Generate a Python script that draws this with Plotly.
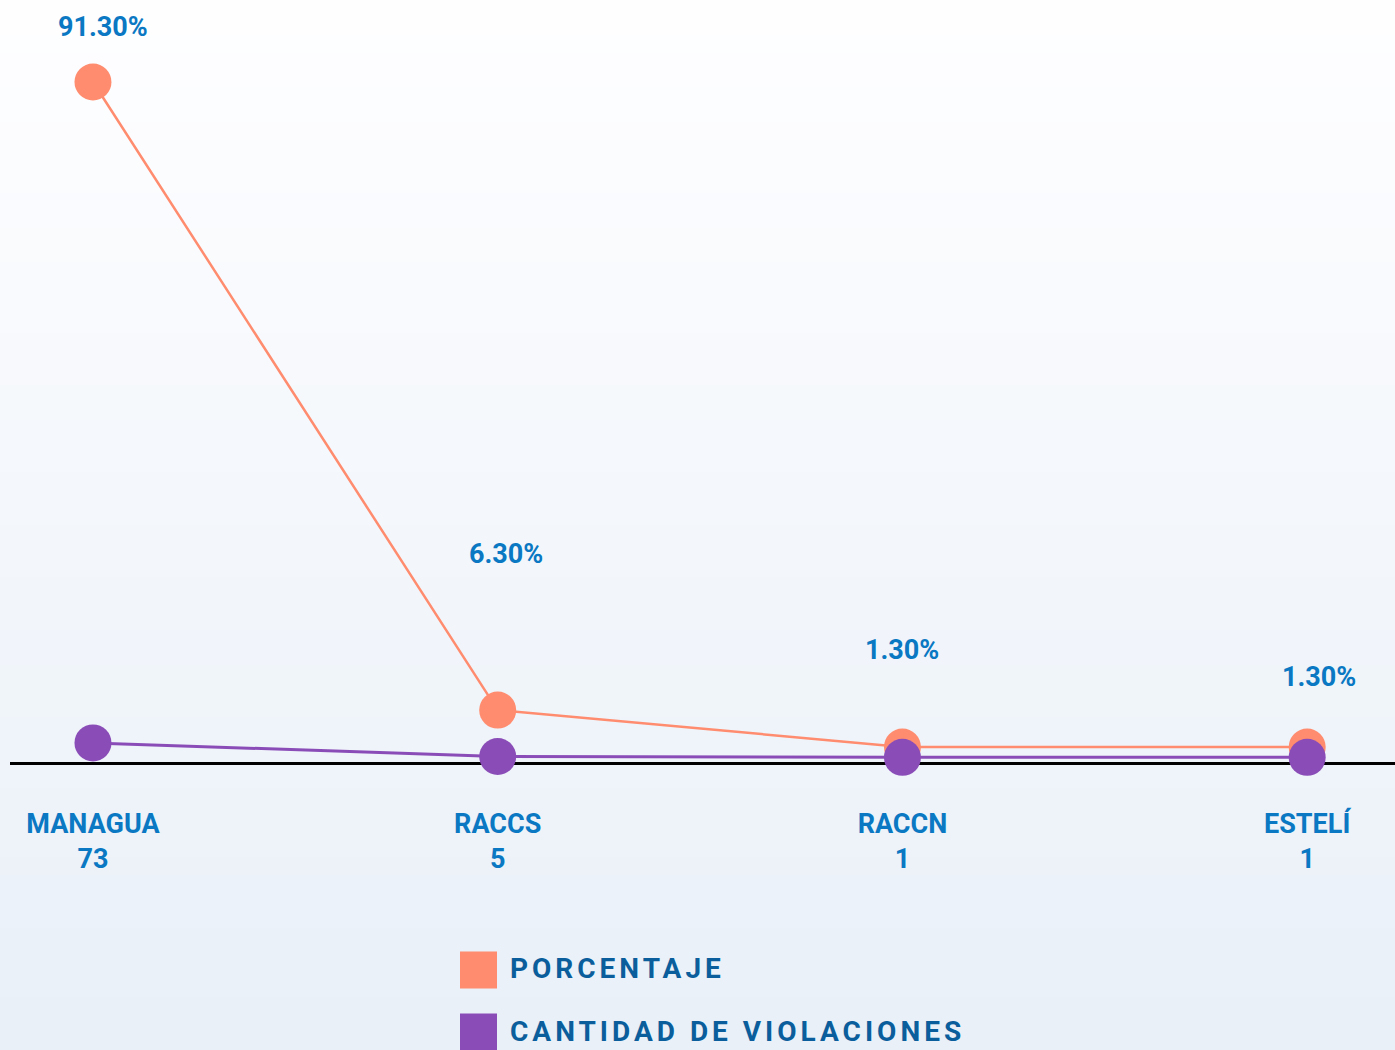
import plotly.graph_objects as go

# data
regiones = ["MANAGUA", "RACCS", "RACCN", "ESTELÍ"]
cantidad = [73, 5, 1, 1]
porcentaje = [91.3, 6.3, 1.3, 1.3]

# label offsets (pixels) for the percentage labels
label_dx = [10, 8, 0, 12]
label_dy = [55, 156, 97, 70]

ORANGE = "#ff8c6e"
PURPLE = "#8a4db8"
LABEL_BLUE = "#0a78c2"
LEGEND_BLUE = "#0b5e9c"

W, H = 1395, 1050
ML, MT, MB = 10, 0, 288
PLOT_W = W - ML
PLOT_H = H - MT - MB


def paper_x(px):
    return (px - ML) / PLOT_W


def paper_y(py):
    return 1 - (py - MT) / PLOT_H


ticktext = [f"<b>{r}</b><br><b>{c}</b>" for r, c in zip(regiones, cantidad)]

fig = go.Figure()

fig.add_trace(go.Scatter(
    x=regiones, y=porcentaje, name="PORCENTAJE",
    mode="lines+markers", cliponaxis=False,
    line=dict(color=ORANGE, width=2.5),
    marker=dict(color=ORANGE, size=37),
    hovertemplate="%{y:.2f}%<extra></extra>",
))
fig.add_trace(go.Scatter(
    x=regiones, y=cantidad, name="CANTIDAD DE VIOLACIONES",
    mode="lines+markers", yaxis="y2", cliponaxis=False,
    line=dict(color=PURPLE, width=3),
    marker=dict(color=PURPLE, size=37),
    hovertemplate="%{y}<extra></extra>",
))

# percentage labels
for r, v, dx, dy in zip(regiones, porcentaje, label_dx, label_dy):
    fig.add_annotation(
        x=r, y=v, text=f"<b>{v:.2f}%</b>", showarrow=False,
        xshift=dx, yshift=dy,
        font=dict(family="Roboto", size=27, color=LABEL_BLUE),
    )

# background gradient (white -> light blue)
shapes = []
steps = 60
top, bot = (254, 254, 255), (233, 240, 248)
for i in range(steps):
    t = i / (steps - 1)
    c = tuple(round(a + (b - a) * t) for a, b in zip(top, bot))
    y0 = i * H / steps
    y1 = (i + 1) * H / steps + 1
    shapes.append(dict(
        type="rect", xref="paper", yref="paper", layer="below",
        x0=paper_x(0), x1=paper_x(W), y0=paper_y(y0), y1=paper_y(y1),
        fillcolor=f"rgb{c}", line=dict(width=0),
    ))

# custom legend
legend_items = [("PORCENTAJE", ORANGE, 970, 968), ("CANTIDAD DE VIOLACIONES", PURPLE, 1032, 1031)]
for name, color, cy, ty in legend_items:
    shapes.append(dict(
        type="rect", xref="paper", yref="paper",
        x0=paper_x(460), x1=paper_x(497), y0=paper_y(cy - 18.5), y1=paper_y(cy + 18.5),
        fillcolor=color, line=dict(width=0),
    ))
    fig.add_annotation(
        xref="paper", yref="paper", x=paper_x(508), y=paper_y(ty),
        xanchor="left", yanchor="middle", showarrow=False,
        text=f"<b><span style='letter-spacing:4px'>{name}</span></b>",
        font=dict(family="Roboto", size=28, color=LEGEND_BLUE),
    )

fig.update_layout(
    width=W, height=H,
    margin=dict(l=ML, r=0, t=MT, b=MB),
    paper_bgcolor="#eef3f9",
    plot_bgcolor="rgba(0,0,0,0)",
    showlegend=False,
    shapes=shapes,
    xaxis=dict(
        type="category", range=[-0.205, 3.217],
        tickvals=regiones, ticktext=ticktext,
        showgrid=False, zeroline=False, layer="below traces",
        showline=True, linecolor="black", linewidth=2.5,
        ticks="", ticklabelstandoff=36,
        tickfont=dict(family="Roboto", size=27, color=LABEL_BLUE),
    ),
    yaxis=dict(range=[-0.73, 102.4], visible=False, showgrid=False, zeroline=False),
    yaxis2=dict(range=[-22.5, 3787], overlaying="y", visible=False,
                showgrid=False, zeroline=False),
)

fig.write_html("out.html", config={"displayModeBar": False},
               post_script="document.body.style.margin='0';")
